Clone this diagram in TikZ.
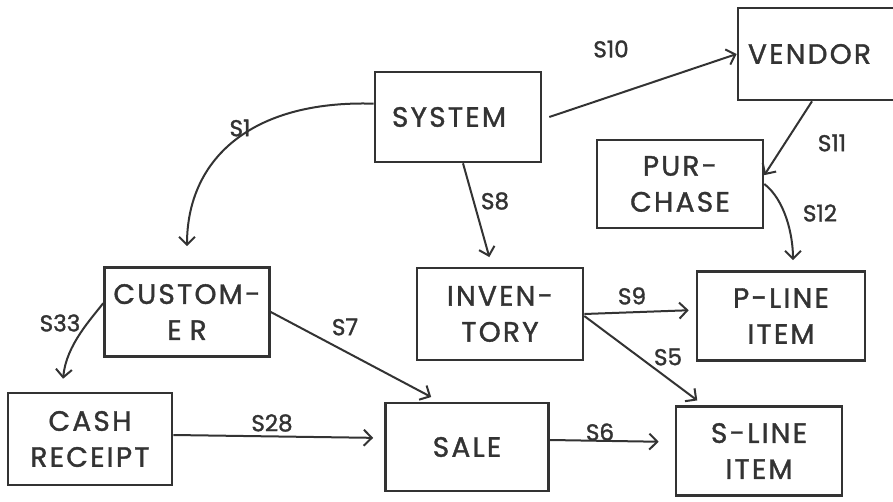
\documentclass[tikz,border=0pt]{standalone}
\usepackage{fontspec}
\setmainfont{Poppins}[FakeBold=1.5]
\newfontfamily\boxfont[LetterSpace=8, FakeBold=1.3]{Poppins}
\usepackage{xcolor}
\usetikzlibrary{arrows.meta}

\begin{document}
\begin{tikzpicture}[x=1pt, y=-1pt, >={Straight Barb[length=8pt,width=16pt]},
  entity/.style={draw=black!80, text=black!80, line width=2.6pt, minimum width=166pt, minimum height=90pt,
    align=center, inner sep=0pt, font=\boxfont\fontsize{28}{36}\selectfont},
  flow/.style={->, draw=black!80, line width=2pt},
  lbl/.style={text=black!80, font=\fontsize{23}{24}\selectfont}]
\clip (0,0) rectangle (893,502);

% entities
\node[entity] (system) at (458,117) {SYSTEM\hspace*{18pt}};
\node[entity, minimum width=170pt, minimum height=92pt, text width=150pt, align=left] (vendor) at (823,54) {VENDOR};
\node[entity, minimum height=88pt] (purchase) at (680,184) {PUR-\\CHASE};
\node[entity, minimum width=165pt, minimum height=89pt] (customer) at (187,312) {CUSTOM-\\E\hspace{8pt}R};
\node[entity, minimum height=92pt] (inventory) at (500,314) {INVEN-\\TORY};
\node[entity, minimum width=168pt, minimum height=89pt] (pline) at (781,316) {P-LINE\\ITEM};
\node[entity, minimum width=164pt, minimum height=92pt] (cash) at (90,439) {CASH\\RECEIPT};
\node[entity, minimum width=163pt, minimum height=88pt] (sale) at (467,447) {SALE};
\node[entity, minimum height=89pt] (sline) at (759,451) {S-LINE\\ITEM};

% flows out of SYSTEM
\draw[flow, shorten >=20pt] (system.171) .. controls (250,100) and (187,160) .. (customer.north);
\draw[flow] ([xshift=7pt]system.east) -- (vendor.west);
\draw[flow, shorten >=10pt] ([xshift=5pt]system.south) -- ([xshift=-8pt]inventory.north);

% purchasing side
\draw[flow] ([xshift=-11pt]vendor.south) -- (purchase.6);
\draw[flow, shorten >=10pt] (purchase.east) .. controls (785,200) and (793,235) .. ([xshift=12pt]pline.north);

% sales side
\draw[flow, shorten >=13pt] (customer.174) .. controls (92,318) and (66,345) .. ([xshift=-28pt]cash.north);
\draw[flow, shorten >=10pt] (customer.east) -- ([xshift=-27pt]sale.north);
\draw[flow, shorten >=7pt] (inventory.east) -- ([yshift=6pt]pline.west);
\draw[flow, shorten >=8pt] ([yshift=-2pt]inventory.east) -- ([xshift=29pt]sline.north west);
\draw[flow, shorten >=11pt] ([yshift=4pt]cash.east) -- ([yshift=9pt]sale.west);
\draw[flow, shorten >=16pt] ([yshift=7pt]sale.east) -- ([yshift=9pt]sline.west);

% labels
\node[lbl] (l1) at (240,128) {S1};
\node[lbl] (l10) at (611,49) {S10};
\node[lbl] (l8) at (495,201) {S8};
\node[lbl] (l11) at (832,143) {S11};
\node[lbl] (l12) at (820,213) {S12};
\node[lbl] (l33) at (60,323) {S33};
\node[lbl] (l7) at (345,327) {S7};
\node[lbl] (l9) at (632,296) {S9};
\node[lbl] (l5) at (668,357) {S5};
\node[lbl] (l28) at (272,423) {S28};
\node[lbl] (l6) at (600,432) {S6};
\end{tikzpicture}
\end{document}
